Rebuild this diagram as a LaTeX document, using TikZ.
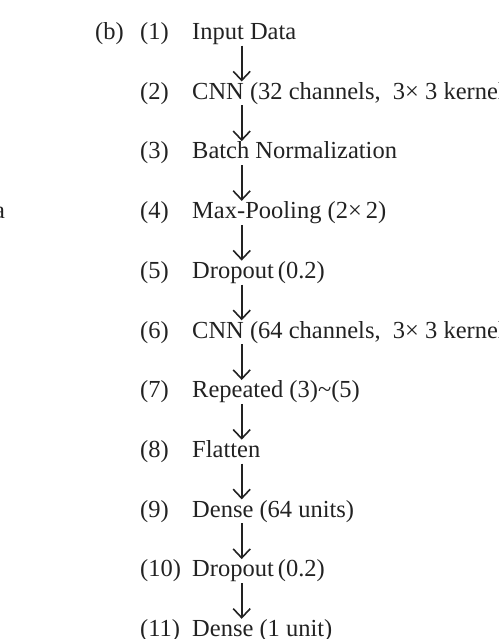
\documentclass[tikz,border=0pt]{standalone}
\usepackage{fontspec}
\setmainfont{Liberation Serif}
\usetikzlibrary{arrows.meta}
\definecolor{ink}{HTML}{222222}
\begin{document}
\begin{tikzpicture}[x=1pt,y=-1pt,
  txt/.style={anchor=base west,inner sep=0pt,text height=17.5pt,text depth=6pt,text=ink,font=\fontsize{24.5}{28}\selectfont},
  arr/.style={draw=ink,line width=1.6pt,-{Straight Barb[length=9pt,width=17pt,line width=1.6pt]}}]
\useasboundingbox (0,0) rectangle (498,639);
\clip (0,0) rectangle (498,639);
\coordinate (ax) at (241.7,0);
\node[txt] (b) at (95,39.5) {(b)};
\node[txt] (n1) at (140,39.5) {(1)};
\node[txt] (r1) at (192,39.5) {Input Data};
\node[txt] (n2) at (140,99.2) {(2)};
\node[txt] (r2) at (192,99.2) {CNN (32 channels,\ \ 3×\ 3 kernel)};
\node[txt] (n3) at (140,158.9) {(3)};
\node[txt] (r3) at (192,158.9) {Batch Normalization};
\node[txt] (n4) at (140,218.6) {(4)};
\node[txt] (r4) at (192,218.6) {Max-Pooling (2×\,2)};
\node[txt] (la) at (-6,218.6) {a};
\node[txt] (n5) at (140,278.3) {(5)};
\node[txt] (r5) at (192,278.3) {Dropout\,(0.2)};
\node[txt] (n6) at (140,338) {(6)};
\node[txt] (r6) at (192,338) {CNN (64 channels,\ \ 3×\ 3 kernel)};
\node[txt] (n7) at (140,397.7) {(7)};
\node[txt] (r7) at (192,397.7) {Repeated (3)\textasciitilde(5)};
\node[txt] (n8) at (140,457.4) {(8)};
\node[txt] (r8) at (192,457.4) {Flatten};
\node[txt] (n9) at (140,517.1) {(9)};
\node[txt] (r9) at (192,517.1) {Dense (64 units)};
\node[txt] (n10) at (140,576.8) {(10)};
\node[txt] (r10) at (192,576.8) {Dropout\,(0.2)};
\node[txt] (n11) at (140,636.5) {(11)};
\node[txt] (r11) at (192,636.5) {Dense (1 unit)};
\foreach \a/\b in {r1/r2,r2/r3,r3/r4,r4/r5,r5/r6,r6/r7,r7/r8,r8/r9,r9/r10,r10/r11}
  \draw[arr] (\a.south -| ax) -- (\b.north -| ax);
\end{tikzpicture}
\end{document}
